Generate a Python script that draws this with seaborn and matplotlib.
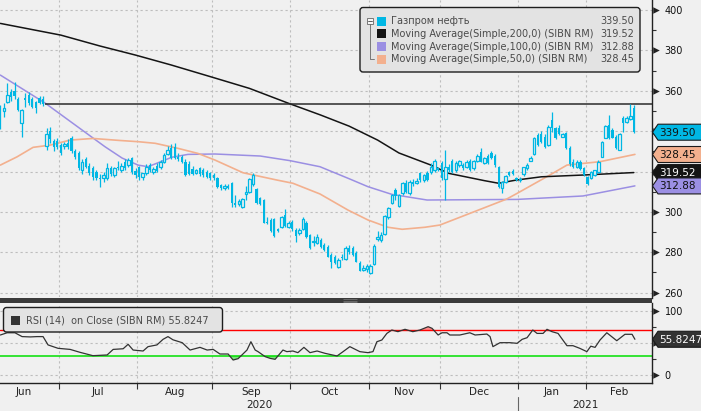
import numpy as np
import pandas as pd
import matplotlib
matplotlib.use('Agg')
import matplotlib.pyplot as plt
import matplotlib.transforms as mtransforms
from matplotlib.patches import Polygon, FancyBboxPatch, Rectangle
import seaborn as sns

# Дневные свечи (open, high, low, close) по месяцам, оценка с картинки
jun = [(352, 353, 341, 344.5), (350, 354, 347, 351.5), (354.5, 364, 354, 358), (359.5, 361, 355, 357),
       (360, 364.5, 356, 357.5), (356, 357, 350, 350.5), (344, 351, 337, 350.5), (356.5, 359, 352, 355.5),
       (358, 359.5, 353, 354), (356, 357, 351.5, 352), (354.5, 355, 349, 351.5), (356.5, 357.5, 353.5, 354),
       (356, 357.5, 352.5, 353.5), (332.5, 341.5, 330.5, 338.5), (340, 342, 334, 336), (335, 336, 330, 332),
       (335, 336.5, 331, 332)]
jul = [(333, 334, 328, 329), (332.6, 334.5, 331, 333.5), (334, 336, 331, 332), (336.5, 337.5, 329, 330),
       (330, 331, 326, 327), (329, 330, 321, 322), (321, 326, 319, 324.5), (326, 327, 322, 322.5),
       (323, 324, 318.5, 319.5), (322, 323, 316, 317.5), (320, 321, 316, 316.8), (317, 319, 312.5, 316.5),
       (316.6, 320, 315, 318.3), (316.6, 324, 316, 321.6), (322, 323, 318, 318.6), (318.3, 322.5, 317.5, 321.6),
       (322.4, 325, 321, 321.6), (320.8, 324, 320, 322.9), (324.6, 326, 321, 321.6), (323.2, 326.5, 322.5, 325.7),
       (326.5, 327, 319, 320), (320.5, 322, 317, 318.5)]
aug = [(322.4, 323, 315.8, 317.4), (317.4, 319.5, 316, 319.1), (319.1, 323.5, 318.5, 322.4), (323.2, 324, 320, 320.8),
       (319.6, 322.5, 319, 321.3), (323, 324, 320, 320.5), (322.4, 325.5, 321.5, 324.9), (324.9, 329, 324, 328.2),
       (328.5, 332.8, 328, 330.7), (331.6, 333.5, 326, 326.5), (332.4, 334, 326, 326.5), (327, 329, 325, 326),
       (327.4, 328, 324, 324.6), (324.5, 326, 318, 318.3), (323.6, 325, 318.5, 319), (321.5, 323, 318.5, 319),
       (319.5, 321.5, 319, 321), (321.6, 322.5, 318, 318.6), (321, 322, 317.5, 318.3), (320, 321, 317, 317.4),
       (319.1, 320, 316, 316.6)]
sep = [(318.3, 319.5, 316, 316.6), (316.6, 317.5, 312, 312.5), (313.3, 314, 311, 311.7), (311.7, 314, 311, 313),
       (313, 314, 311.5, 312), (314.2, 315, 302.3, 304.3), (304.3, 308.4, 302.6, 303.4), (303.8, 306.5, 303, 305.4),
       (302.6, 307, 302, 306.2), (308.7, 313, 306, 309.7), (310, 317, 309.5, 316.1), (314, 319.4, 313, 318.5),
       (311.2, 312, 304, 304.3), (306.7, 307.5, 303.5, 303.9), (305.9, 306.5, 294.5, 294.7), (295.2, 297.5, 294, 294.4),
       (296, 297, 290, 290.7), (296.3, 297, 287.5, 288.1), (291.3, 292, 290, 290.7), (292.4, 298, 292, 297.6),
       (298.5, 301.3, 292.5, 293), (292.5, 295.5, 292, 294.5)]
oct_ = [(295.2, 296, 290.5, 291.4), (291, 292, 285, 288.1), (289.4, 292, 288.5, 291), (291.4, 297.5, 291, 296.3),
        (294.7, 295.5, 287, 287.4), (288.4, 289, 281.5, 282), (285, 288, 283, 285.6), (284.4, 289, 284, 287.7),
        (286, 287, 282, 282.8), (283.6, 284.5, 280.5, 281.1), (282.8, 283.5, 277.5, 277.8), (278.6, 279.5, 272, 275.3),
        (277.8, 278.5, 274, 274.6), (272.9, 277, 272, 276.2), (277.5, 279, 276, 277), (276.5, 283, 276, 282),
        (282, 283.6, 279, 280), (282, 283, 278, 278.7), (279.5, 280.5, 275, 275.3), (274.6, 275.5, 270.5, 270.9),
        (271.2, 273.5, 270.5, 272.4), (271.5, 274, 270, 273)]
nov = [(269.6, 274, 269, 273.2), (274.2, 284, 273.5, 283.1), (286.4, 290.5, 285.5, 287.7), (286, 290, 285, 288.5),
       (289.1, 298.5, 288.5, 298), (297.3, 302.5, 296.5, 301.8), (304.6, 309, 304, 308.4), (310.9, 312, 306, 307.9),
       (302.9, 309, 302.5, 308.4), (309.2, 315, 308.5, 314.2), (314.5, 316, 309.5, 310), (309.2, 316, 308.5, 315),
       (315, 316.5, 313, 313.8), (314.5, 317, 314, 315.5), (319.1, 320, 315, 315.8), (315.8, 319, 315, 318.3),
       (319.1, 320.5, 315.5, 315.8), (319.9, 324, 319, 322.4), (320.8, 326, 320, 325), (321.6, 322.5, 320.5, 320.8)]
dec = [(324, 325, 316, 316.6), (316.2, 330.7, 305.9, 322.4), (322.4, 323.5, 320, 320.8), (325, 326, 319.5, 320),
       (320.8, 325, 320, 324), (323.2, 325.5, 322.5, 325), (323.2, 324, 321, 321.6), (322.5, 325.5, 322, 324.5),
       (325, 326, 320.5, 321), (321.6, 325.5, 321, 325), (325, 328.5, 324.5, 327.7), (329.8, 331.5, 324.5, 324.9),
       (324, 327, 323.5, 326.5), (327.7, 328.5, 323.5, 324), (329, 330, 326, 326.5), (327.7, 328.5, 322.5, 323.2),
       (322.4, 323, 312, 312.2), (311.7, 315.5, 309.5, 315), (315, 318.5, 314.5, 317.8), (320, 320.5, 318, 318.3),
       (320.5, 321.5, 318.5, 319), (316.6, 317.5, 315.5, 315.8)]
jan = [(316, 317.5, 315, 316.5), (318.8, 322.5, 318, 322.4), (321.6, 324, 321, 323.2), (325.4, 327.5, 325, 326.5),
       (328.5, 337, 328, 336.5), (338.1, 339, 332.5, 333.1), (338.4, 340, 334, 334.7), (337.3, 338.5, 331.5, 332.3),
       (333.1, 343, 332.5, 341.9), (345.5, 349.6, 339.7, 341.4), (341.4, 342, 336, 336.5), (341.4, 343, 338, 338.4),
       (337.3, 339, 337, 338.4), (338.9, 339.5, 331, 331.5), (331.8, 332.5, 323, 323.6), (324.9, 326, 322, 322.4),
       (322.4, 325.5, 322, 324.9), (324.9, 325.5, 321, 321.3), (321.9, 322.5, 318, 318.3)]
feb = [(317.4, 318, 313.1, 313.7), (317, 320.5, 316.5, 320), (318.3, 321, 318, 320.8), (320, 325.5, 319.5, 324.9),
       (327.4, 335, 327, 334.5), (336.8, 343, 336.5, 342.7), (343, 348, 336, 336.5), (340.6, 341.5, 336.5, 336.8),
       (337.3, 338, 331, 331.5), (330.7, 339, 330.5, 338.4), (346.7, 347.5, 339.7, 343.9), (344.4, 347.5, 344, 346.7),
       (346, 353.5, 345.5, 347.5), (351.3, 353, 338.9, 339.5)]

# Скользящие средние (позиция в торговых днях, значение)
ma200_pos = [0, 17, 28, 38, 48, 60, 70, 81, 90, 98, 106, 112, 121, 126, 136, 140, 145, 152, 164, 178]
ma200 = [393.4, 387.6, 382.2, 377.7, 372.8, 366.5, 361.2, 353.8, 348, 342.5, 335.6, 329.2, 323.2, 319.1,
         315.5, 314.2, 315.8, 317.4, 318.3, 319.5]
ma100_pos = [0, 12.6, 29.4, 34.2, 38.7, 41.5, 48.2, 52.7, 60.3, 73, 81.4, 89.8, 98.2, 103.3, 110, 119.9,
             145.2, 163.7, 178.3]
ma100 = [367.8, 353.9, 332.3, 326.7, 323.2, 322.4, 327.1, 328.5, 328.7, 327.7, 325.4, 322.4, 316.3, 312.5,
         308.7, 305.9, 306.2, 307.9, 312.9]
ma50_pos = [0, 4.7, 9.2, 14, 19.6, 26, 33.6, 38.7, 43.5, 49.9, 55.5, 60.3, 68.2, 77.7, 82.2, 89.8, 97.7,
            103.3, 108.9, 112.9, 119.3, 123.5, 135.6, 142.3, 145.2, 154.4, 159.2, 168.5, 178.3]
ma50 = [323.2, 327.3, 332, 333.1, 335.6, 336.4, 335.4, 334.8, 334, 331.5, 329, 325.7, 319.4, 315.8, 314.2,
        308.9, 300.9, 296, 292.4, 291.4, 292.4, 293.5, 301.8, 306.4, 309.2, 318.3, 323.2, 324.9, 328.5]

# RSI(14)
rsi_pos = [0, 1.9, 4.1, 6.1, 8.4, 10.3, 12, 13.4, 16.2, 19.6, 22.4, 26, 30, 31.7, 34.5, 35.9, 37.3, 40.1,
           41.5, 44, 45.7, 47.1, 48.5, 51.1, 53.3, 56.1, 58.1, 59.8, 61.7, 64, 65.4, 66.8, 69.3, 70.4, 71.6,
           72.4, 74.4, 75.8, 77.2, 79.4, 80.5, 82.2, 83.6, 85.3, 87, 89, 91.2, 94.6, 96.3, 98.2, 101, 103.3,
           104.7, 105.8, 107.2, 108.6, 110, 111.7, 113.7, 115.9, 117.9, 120.2, 121.3, 123, 124.1, 125.5,
           126.3, 129.1, 131.9, 133.4, 136.7, 137.6, 138.4, 140.4, 143.2, 145.2, 146.6, 148, 149.6, 150.8,
           152.5, 153.6, 155, 156.7, 159.2, 160.9, 162.8, 164.8, 165.9, 167.1, 168.5, 170.4, 173.2, 175.5,
           177.5, 178.3]
rsi_vals = [62.5, 66, 66, 60, 59.5, 60, 60, 47, 41.7, 40, 35.4, 30.2, 31.3, 40, 41, 48, 39, 37.5, 44.3, 47,
            55.7, 60, 55, 50.5, 39, 43.2, 39, 40, 32.8, 32.8, 23.4, 25.5, 39, 52, 39, 36.5, 28.7, 26, 24.5,
            39, 36.5, 37.5, 34.9, 43.2, 34.9, 37.5, 33.9, 29.7, 36.5, 44.3, 36.5, 34.9, 36.5, 52, 54.7, 65,
            70.3, 67.7, 71.4, 67.7, 70.3, 75.5, 72.9, 62.5, 66, 66, 62.5, 62.5, 66, 62.5, 64, 60, 44.3, 50.5,
            50.5, 49.5, 55.7, 58.3, 70.3, 65, 65, 71.4, 67.7, 65, 45.8, 45.8, 41.7, 36.5, 45, 43.2, 54.7, 66,
            53.6, 63.6, 63.6, 55.8]

months = ['Jun', 'Jul', 'Aug', 'Sep', 'Oct', 'Nov', 'Dec', 'Jan', 'Feb']
month_trading_days = [20, 22, 21, 22, 22, 20, 22, 19, 19]
hidden_june_days = 3
years = ['2020', '2021']

resistance_level = 353.4
resistance_start = 12.6

last_price, last_ma200, last_ma100, last_ma50, last_rsi = 339.50, 319.52, 312.88, 328.45, 55.8247
legend_names = ['Газпром нефть', 'Moving Average(Simple,200,0) (SIBN RM)',
                'Moving Average(Simple,100,0) (SIBN RM)', 'Moving Average(Simple,50,0) (SIBN RM)']

bg = '#f0f0f0'
cyan = '#00b7e4'
c200, c100, c50 = '#141414', '#9b8fe3', '#f3b08e'

sns.set_theme(style='white', rc={'axes.facecolor': bg, 'figure.facecolor': bg})
plt.rcParams['font.family'] = ['DejaVu Sans']

df = pd.DataFrame(jun + jul + aug + sep + oct_ + nov + dec + jan + feb,
                  columns=['open', 'high', 'low', 'close'])
df['pos'] = np.arange(len(df))
bounds = np.cumsum([0] + month_trading_days) - hidden_june_days - 0.5
xmin, xmax = -0.1, 183.1

W, H = 701, 411
fig = plt.figure(figsize=(W / 100, H / 100), dpi=100)


def px_axes(x0, y0, x1, y1, **kw):
    return fig.add_axes([x0 / W, 1 - y1 / H, (x1 - x0) / W, (y1 - y0) / H], **kw)


ax = px_axes(0, 0, 652, 297.5)
ax_rsi = px_axes(0, 303, 652, 383)
over = px_axes(0, 0, W, H, zorder=10)
over.set_xlim(0, W)
over.set_ylim(H, 0)
over.axis('off')

# --- свечи
up = df['close'] >= df['open']
body_lo = df[['open', 'close']].min(axis=1)
body_h = (df['close'] - df['open']).abs().clip(lower=0.5)
ax.vlines(df['pos'], df['low'], df['high'], color=cyan, lw=0.9, zorder=3)
ax.bar(df.loc[up, 'pos'], body_h[up], bottom=body_lo[up], width=0.72,
       facecolor=bg, edgecolor=cyan, linewidth=0.9, zorder=4)
ax.bar(df.loc[~up, 'pos'], body_h[~up], bottom=body_lo[~up], width=0.62,
       color=cyan, linewidth=0, zorder=4)

sns.lineplot(x=ma100_pos, y=ma100, ax=ax, color=c100, lw=1.1, zorder=2.5)
sns.lineplot(x=ma50_pos, y=ma50, ax=ax, color=c50, lw=1.2, zorder=2.5)
sns.lineplot(x=ma200_pos, y=ma200, ax=ax, color=c200, lw=1.1, zorder=2.5)
ax.hlines(resistance_level, resistance_start, xmax, color='#2a2a2a', lw=1.1, zorder=2.6)

ax.set_xlim(xmin, xmax)
ax.set_ylim(257.6, 405)
ax.set_xticks(bounds[1:-1])
ax.tick_params(axis='x', length=0, labelbottom=False)
yt = np.arange(260, 401, 20)
ax.set_yticks(yt)
ax.set_yticklabels([str(v) if v not in (320, 340) else '' for v in yt])
ax.set_yticks(np.arange(270, 401, 20), minor=True)
ax.grid(True, which='major', ls=(0, (2, 2.5)), color='#bdbdbd', lw=0.8)
ax.set_xlabel('')
ax.set_ylabel('')

# --- RSI
rsi_arr = np.array(rsi_vals)
ax_rsi.axhline(70, color='#ff0000', lw=1, zorder=2)
ax_rsi.axhline(30, color='#00e000', lw=1.1, zorder=2)
ax_rsi.fill_between(rsi_pos, rsi_arr, 30, where=rsi_arr < 30, interpolate=True, color='#7be27b', lw=0)
ax_rsi.fill_between(rsi_pos, rsi_arr, 70, where=rsi_arr > 70, interpolate=True, color='#ff8c8c', lw=0)
sns.lineplot(x=rsi_pos, y=rsi_vals, ax=ax_rsi, color='#333333', lw=0.9, zorder=3)
ax_rsi.set_xlim(xmin, xmax)
ax_rsi.set_ylim(-12.5, 112.5)
ax_rsi.set_xticks(bounds[1:-1])
ax_rsi.set_yticks([0, 50, 100])
ax_rsi.set_yticklabels(['0', '', '100'])
ax_rsi.set_yticks([25, 75], minor=True)
ax_rsi.grid(True, which='major', ls=(0, (2, 2.5)), color='#bdbdbd', lw=0.8)
ax_rsi.tick_params(axis='x', bottom=True, length=4, width=0.8, color='#333', direction='out', labelbottom=False)
ax_rsi.set_xlabel('')
ax_rsi.set_ylabel('')

for a in (ax, ax_rsi):
    a.yaxis.tick_right()
    a.tick_params(axis='y', which='major', right=True, left=False, length=0, pad=9,
                  labelsize=7, labelcolor='#111')
    a.tick_params(axis='y', which='minor', right=True, left=False, length=3, width=0.8,
                  color='#333', direction='out')
    a.spines['left'].set_visible(False)
    a.spines['top'].set_visible(False)
    a.spines['right'].set_color('#222')
    a.spines['right'].set_linewidth(1)
    tri = mtransforms.blended_transform_factory(a.transAxes, a.transData)
    ticks = [t for t in a.get_yticks()]
    a.scatter(np.full(len(ticks), 1.0062), ticks, marker='>', s=22, color='#222',
              transform=tri, clip_on=False, zorder=5, linewidths=0)
ax.spines['bottom'].set_visible(False)
ax_rsi.spines['bottom'].set_color('#222')
ax_rsi.spines['bottom'].set_linewidth(1)

xlab = mtransforms.blended_transform_factory(ax_rsi.transData, ax_rsi.transAxes)
for name, a0, a1 in zip(months, bounds[:-1], bounds[1:]):
    ax_rsi.text((a0 + a1) / 2, -0.11, name, transform=xlab, ha='center', va='center',
                fontsize=7.5, color='#222')
year_split = bounds[7]
ax_rsi.text((xmin + year_split) / 2, -0.27, years[0], transform=xlab, ha='center', va='center',
            fontsize=7.5, color='#222')
ax_rsi.text((year_split + xmax) / 2, -0.27, years[1], transform=xlab, ha='center', va='center',
            fontsize=7.5, color='#222')
ax_rsi.plot([year_split, year_split], [-0.175, -0.4], transform=xlab, color='#666', lw=0.8, clip_on=False)

# --- разделитель панелей
over.add_patch(Rectangle((0, 298), 652, 4.5, color='#3a3a3a', lw=0))
over.hlines([299.4, 300.6, 301.8], 343, 357, color='#8c8c8c', lw=0.4)


# --- ценовые метки справа
def to_px(a, x, y):
    dx, dy = a.transData.transform((x, y))
    return dx, H - dy


def price_tag(a, value, label, fc, tc):
    x0, yc = to_px(a, xmax, value)
    pts = [(x0 + 0.5, yc), (x0 + 6, yc - 8), (W + 3, yc - 8), (W + 3, yc + 8), (x0 + 6, yc + 8)]
    over.add_patch(Polygon(pts, closed=True, fc=fc, ec='#1a1a1a', lw=0.8))
    over.text(x0 + 7, yc + 0.5, label, ha='left', va='center', fontsize=7.5, color=tc)


price_tag(ax, last_price, f'{last_price:.2f}', cyan, '#111')
price_tag(ax, last_ma50, f'{last_ma50:.2f}', c50, '#111')
price_tag(ax, last_ma200, f'{last_ma200:.2f}', c200, 'white')
price_tag(ax, last_ma100, f'{last_ma100:.2f}', c100, '#111')
price_tag(ax_rsi, last_rsi, f'{last_rsi:.4f}', '#333333', 'white')

# --- легенда
over.add_patch(FancyBboxPatch((360, 7.5), 280, 64.5, boxstyle='round,pad=0,rounding_size=3',
                              fc='#e3e3e3', ec='#1e1e1e', lw=1))
rows_y = [21.5, 34, 46.5, 59.5]
leg_colors = [cyan, c200, c100, c50]
leg_values = [last_price, last_ma200, last_ma100, last_ma50]
over.add_patch(Rectangle((367, 18.5), 6, 6, fc='#f6f6f6', ec='#666', lw=0.6))
over.plot([368.3, 371.7], [21.5, 21.5], color='#444', lw=0.6)
over.plot([370, 370, 374], [24.5, 59.5, 59.5], color='#666', lw=0.6)
for yc, name, col, val in zip(rows_y, legend_names, leg_colors, leg_values):
    over.add_patch(Rectangle((376.5, yc - 4.5), 9, 9, fc=col, lw=0))
    over.text(391, yc, name, ha='left', va='center', fontsize=7, color='#4a4a4a')
    over.text(634, yc, f'{val:.2f}', ha='right', va='center', fontsize=7, color='#4a4a4a')

over.add_patch(FancyBboxPatch((3.5, 307.5), 219, 24.5, boxstyle='round,pad=0,rounding_size=3',
                              fc='#e3e3e3', ec='#1e1e1e', lw=1))
over.add_patch(Rectangle((11, 315.5), 8.5, 9, fc='#333333', lw=0))
over.text(26, 320, f'RSI (14)  on Close (SIBN RM) {last_rsi:.4f}', ha='left', va='center',
          fontsize=7, color='#4a4a4a')

fig.savefig('out.png', dpi=100, facecolor=bg)
